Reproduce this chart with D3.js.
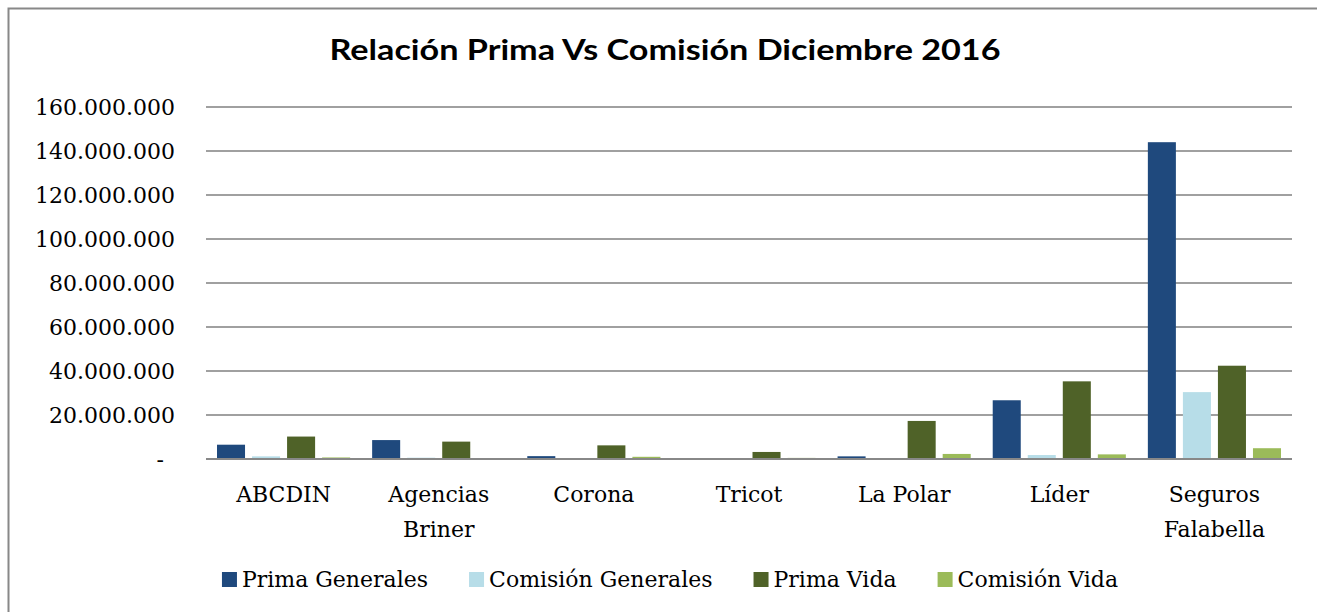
<!DOCTYPE html>
<html>
<head>
<meta charset="utf-8">
<script src="https://cdn.jsdelivr.net/npm/d3@7"></script>
<style>
body { margin:0; background:#fff; }
svg text { font-family:"DejaVu Serif", serif; fill:#000; }
</style>
</head>
<body>
<div id="plot"></div>
<script>
/* data */
var categories = ["ABCDIN", "Agencias Briner", "Corona", "Tricot", "La Polar", "Líder", "Seguros Falabella"];
var series = ["Prima Generales", "Comisión Generales", "Prima Vida", "Comisión Vida"];
var primaGenerales = [6500000, 8600000, 1300000, 100000, 1200000, 26700000, 144000000];
var comisionGenerales = [1200000, 600000, 100000, 0, 200000, 1800000, 30400000];
var primaVida = [10200000, 7900000, 6200000, 3200000, 17300000, 35300000, 42400000];
var comisionVida = [700000, 0, 1000000, 500000, 2300000, 2100000, 4900000];
var yTicks = [0, 20000000, 40000000, 60000000, 80000000, 100000000, 120000000, 140000000, 160000000];
var colors = ["#1f497d", "#b7dde8", "#4f6228", "#9bbb59"];

var values = [primaGenerales, comisionGenerales, primaVida, comisionVida];

var W = 1317, H = 612;
var margin = {t:107, r:25, b:153, l:206};
var width = W - margin.l - margin.r,
    height = H - margin.t - margin.b;

var svg = d3.select('#plot')
    .append('svg')
    .attr('width', W)
    .attr('height', H);

// frame (only left and top edges show in the picture)
svg.append('rect')
    .attr('x', 8.5).attr('y', 8.5)
    .attr('width', W + 50).attr('height', H + 50)
    .style('fill', 'none')
    .style('stroke', '#888')
    .style('stroke-width', 2);

svg.append('text')
    .attr('x', 665)
    .attr('y', 60)
    .attr('text-anchor', 'middle')
    .attr('textLength', 671)
    .attr('lengthAdjust', 'spacingAndGlyphs')
    .style('font-family', 'Lato, "Open Sans", sans-serif')
    .style('font-weight', 'bold')
    .style('font-size', '29px')
    .text('Relación Prima Vs Comisión Diciembre 2016');

var plot = svg.append('g')
    .attr('transform', 'translate(' + margin.l + ',' + margin.t + ')');

var x0 = d3.scaleBand().domain(categories).range([0, width]);
var x1 = d3.scaleBand().domain(series).range([11, x0.bandwidth() - 11]).paddingInner(0.2);
var y = d3.scaleLinear().domain([0, 160000000]).range([height, 0]);

var loc = d3.formatLocale({decimal:",", thousands:".", grouping:[3], currency:["$", ""]});
var fmt = loc.format(",d");

// gridlines
plot.selectAll('.grid')
    .data(yTicks.slice(1))
    .enter()
    .append('line')
    .attr('class', 'grid')
    .attr('x1', 0).attr('x2', width)
    .attr('y1', function(d){ return y(d); })
    .attr('y2', function(d){ return y(d); })
    .style('stroke', '#a0a0a0')
    .style('stroke-width', 2);

// y axis labels
var yAxis = d3.axisLeft(y)
    .tickValues(yTicks)
    .tickSize(0)
    .tickPadding(31)
    .tickFormat(function(d){ return d === 0 ? '-' : fmt(d); });

var ya = plot.append('g').call(yAxis);
ya.select('.domain').remove();
ya.selectAll('text')
    .style('font-family', '"DejaVu Serif", serif')
    .style('font-size', '22px')
    .attr('dx', function(d){ return d === 0 ? -11 : 0; });

// bars
var groups = plot.selectAll('.group')
    .data(categories)
    .enter()
    .append('g')
    .attr('class', 'group')
    .attr('transform', function(d){ return 'translate(' + x0(d) + ',0)'; });

groups.selectAll('rect')
    .data(function(d, i){
        return series.map(function(s, j){ return {key:s, value:values[j][i], color:colors[j]}; });
    })
    .enter()
    .append('rect')
    .attr('x', function(d){ return x1(d.key); })
    .attr('width', x1.bandwidth())
    .attr('y', function(d){ return y(d.value); })
    .attr('height', function(d){ return height - y(d.value); })
    .style('fill', function(d){ return d.color; });

// baseline
plot.append('line')
    .attr('x1', 0).attr('x2', width)
    .attr('y1', height).attr('y2', height)
    .style('stroke', '#888')
    .style('stroke-width', 2);

// category labels, wrapped on the space like the original
var xlab = plot.selectAll('.xlab')
    .data(categories)
    .enter()
    .append('text')
    .attr('class', 'xlab')
    .attr('text-anchor', 'middle')
    .attr('transform', function(d){ return 'translate(' + (x0(d) + x0.bandwidth() / 2) + ',' + (height + 43) + ')'; })
    .style('font-size', '22px');

xlab.each(function(d){
    var words = d === 'La Polar' ? [d] : d.split(' ');
    var t = d3.select(this);
    words.forEach(function(w, i){
        t.append('tspan').attr('x', 0).attr('y', i * 35).text(w);
    });
});

// legend
var legend = svg.append('g').attr('transform', 'translate(0,587)');
var lx = 0;
var items = legend.selectAll('.item')
    .data(series)
    .enter()
    .append('g')
    .attr('class', 'item');

items.append('rect')
    .attr('y', -15)
    .attr('width', 15).attr('height', 15)
    .style('fill', function(d, i){ return colors[i]; });

items.append('text')
    .attr('x', 20)
    .style('font-size', '22px')
    .text(function(d){ return d; });

items.each(function(){
    var w = this.getBBox().width;
    d3.select(this).attr('transform', 'translate(' + lx + ',0)');
    lx += w + 41;
});
lx -= 41;
legend.attr('transform', 'translate(' + (670 - lx / 2) + ',587)');
</script>
</body>
</html>
